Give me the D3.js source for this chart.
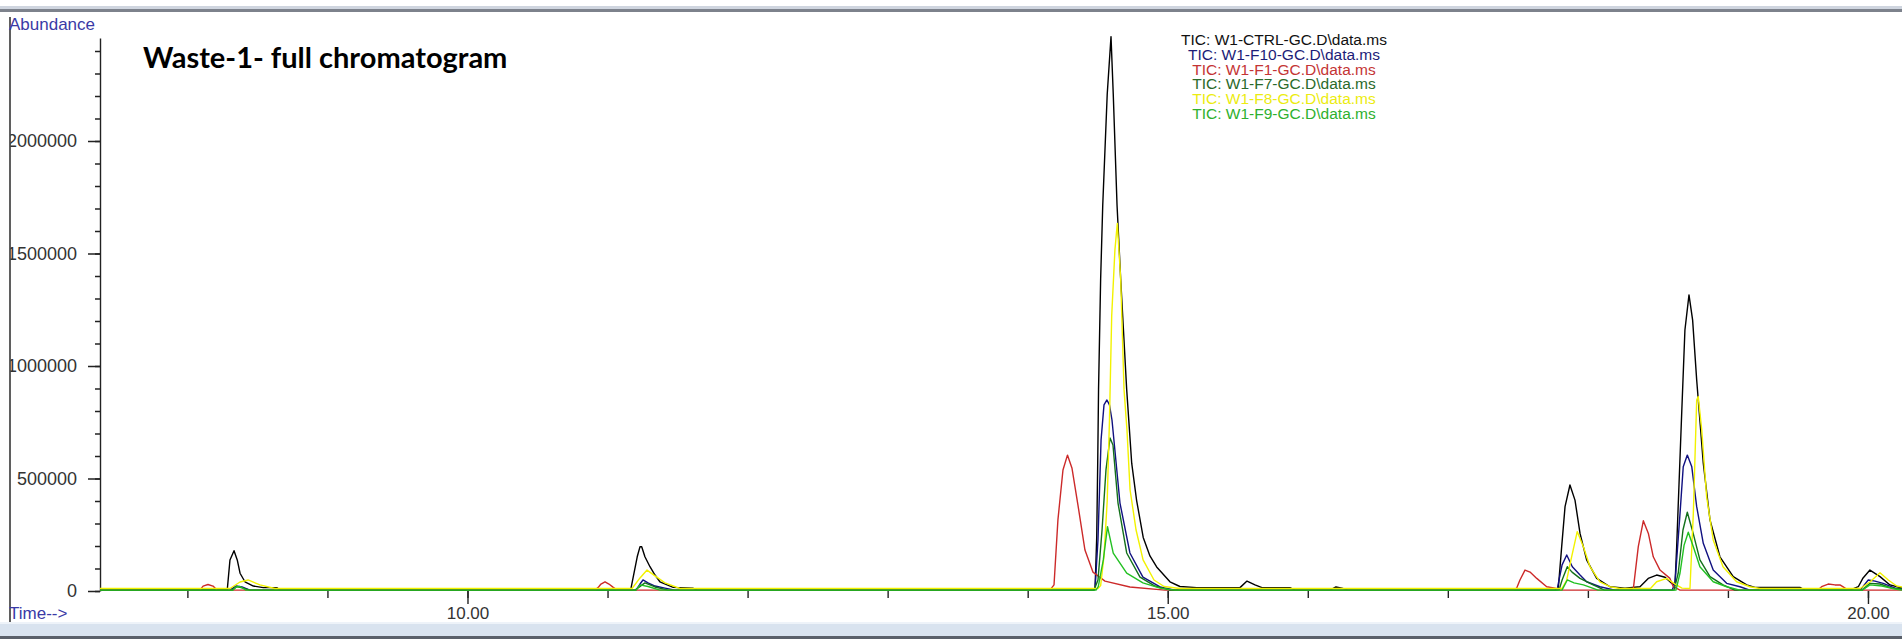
<!DOCTYPE html>
<html>
<head>
<meta charset="utf-8">
<script src="https://cdn.jsdelivr.net/npm/d3@7"></script>
<style>
  html, body { margin: 0; padding: 0; background: #ffffff; }
  svg { display: block; }
  .tick text { font-family: "Liberation Sans", Arial, sans-serif; }
</style>
</head>
<body>
<svg id="chart" width="1902" height="639"></svg>
<script>
// Retention time window (minutes) and abundance ceiling of the plot area
const timeWindow = [7.376, 20.243];
const abundanceCeiling = 2457800;

// Axis ticks
const xMinorTicks = [8, 9, 10, 11, 12, 13, 14, 15, 16, 17, 18, 19, 20];
const xTickLabels = [10, 15, 20];
const yMinorTicks = [0, 100000, 200000, 300000, 400000, 500000, 600000, 700000, 800000, 900000,
  1000000, 1100000, 1200000, 1300000, 1400000, 1500000, 1600000, 1700000, 1800000, 1900000,
  2000000, 2100000, 2200000, 2300000, 2400000];
const yTickLabels = [0, 500000, 1000000, 1500000, 2000000];

// Sample files (legend order)
const sampleNames = [
  "TIC: W1-CTRL-GC.D\\data.ms",
  "TIC: W1-F10-GC.D\\data.ms",
  "TIC: W1-F1-GC.D\\data.ms",
  "TIC: W1-F7-GC.D\\data.ms",
  "TIC: W1-F8-GC.D\\data.ms",
  "TIC: W1-F9-GC.D\\data.ms"
];

// Total ion current traces: [retention time (min), abundance]
const ctrlTrace = [
  [7.376, 4000], [8.285, 8000], [8.304, 138000], [8.333, 179000], [8.356, 138000], [8.376, 79000],
  [8.411, 41000], [8.471, 22000], [8.542, 15000], [8.638, 15000], [8.661, 4000],
  [11.165, 4000], [11.184, 64000], [11.212, 152000], [11.232, 197000], [11.244, 197000],
  [11.267, 152000], [11.303, 108000], [11.339, 71000], [11.374, 41000], [11.469, 16000],
  [11.612, 12000], [11.639, 4000],
  [14.466, 4000], [14.481, 9000], [14.493, 240000], [14.500, 567000], [14.506, 895000],
  [14.521, 1388000], [14.536, 1716000], [14.568, 2209000], [14.595, 2464000], [14.611, 2209000],
  [14.638, 1716000], [14.664, 1388000], [14.707, 895000], [14.743, 567000], [14.778, 402000],
  [14.825, 238000], [14.873, 156000], [14.921, 107000], [15.016, 41000], [15.087, 20000],
  [15.207, 15000], [15.516, 15000], [15.566, 44000], [15.623, 27000], [15.673, 15000],
  [15.873, 15000], [15.909, 4000],
  [16.159, 4000], [16.201, 18000], [16.244, 13000], [16.287, 4000],
  [17.765, 4000], [17.789, 13000], [17.813, 197000], [17.837, 375000], [17.872, 471000],
  [17.908, 404000], [17.944, 256000], [17.991, 138000], [18.063, 56000], [18.158, 19000],
  [18.265, 13000], [18.372, 19000], [18.431, 56000], [18.491, 71000], [18.551, 61000],
  [18.598, 34000], [18.622, 27000], [18.634, 197000], [18.670, 791000], [18.693, 1160000],
  [18.722, 1316000], [18.748, 1204000], [18.777, 938000], [18.824, 568000], [18.872, 316000],
  [18.943, 152000], [19.038, 64000], [19.134, 27000], [19.193, 16000], [19.514, 16000],
  [19.550, 4000], [19.871, 4000], [19.931, 19000], [19.965, 58000], [20.014, 93000],
  [20.086, 64000], [20.157, 27000], [20.243, 13000]
];

const f10Trace = [
  [7.376, 4000], [8.304, 4000], [8.347, 22000], [8.390, 18000], [8.447, 4000],
  [11.203, 4000], [11.232, 31000], [11.253, 49000], [11.289, 36000], [11.339, 22000],
  [11.410, 13000], [11.482, 4000],
  [14.474, 4000], [14.481, 9000], [14.502, 227000], [14.524, 671000], [14.545, 827000],
  [14.566, 849000], [14.584, 827000], [14.602, 760000], [14.659, 391000], [14.730, 169000],
  [14.823, 62000], [14.945, 18000], [15.052, 4000],
  [17.780, 4000], [17.794, 49000], [17.816, 116000], [17.849, 160000], [17.889, 108000],
  [17.944, 71000], [17.991, 41000], [18.086, 19000], [18.193, 4000],
  [18.602, 4000], [18.622, 34000], [18.658, 345000], [18.681, 552000], [18.710, 604000],
  [18.742, 552000], [18.777, 375000], [18.824, 212000], [18.895, 93000], [18.991, 34000],
  [19.086, 19000], [19.157, 4000],
  [19.944, 4000], [20.002, 49000], [20.050, 44000], [20.109, 34000], [20.193, 13000],
  [20.243, 9000]
];

const f1Trace = [
  [7.376, 4000], [8.090, 4000], [8.112, 22000], [8.147, 29000], [8.183, 22000], [8.211, 4000],
  [10.910, 4000], [10.934, 16000], [10.953, 31000], [10.982, 41000], [11.010, 31000],
  [11.041, 16000], [11.067, 4000],
  [14.159, 4000], [14.188, 27000], [14.216, 316000], [14.252, 538000], [14.284, 604000],
  [14.316, 547000], [14.359, 382000], [14.409, 182000], [14.466, 84000], [14.552, 44000],
  [14.730, 18000], [14.980, 4000],
  [17.465, 4000], [17.492, 13000], [17.515, 49000], [17.551, 93000], [17.587, 84000],
  [17.635, 56000], [17.706, 19000], [17.765, 13000], [17.801, 4000],
  [18.301, 4000], [18.325, 12000], [18.360, 197000], [18.396, 312000], [18.432, 256000],
  [18.467, 152000], [18.515, 93000], [18.586, 56000], [18.610, 19000], [18.658, 4000],
  [19.643, 4000], [19.669, 19000], [19.716, 31000], [19.764, 27000], [19.800, 27000],
  [19.823, 18000], [19.857, 4000], [20.243, 4000]
];

const f7Trace = [
  [7.376, 4000], [8.319, 4000], [8.354, 20000], [8.397, 13000], [8.447, 4000],
  [11.196, 4000], [11.267, 36000], [11.339, 18000], [11.432, 4000],
  [14.474, 4000], [14.502, 49000], [14.531, 271000], [14.559, 538000], [14.588, 680000],
  [14.609, 649000], [14.645, 391000], [14.707, 169000], [14.802, 62000], [14.909, 22000],
  [15.016, 4000],
  [17.794, 4000], [17.816, 49000], [17.853, 108000], [17.887, 84000], [17.944, 56000],
  [18.038, 27000], [18.118, 4000],
  [18.615, 4000], [18.645, 79000], [18.679, 271000], [18.710, 350000], [18.752, 256000],
  [18.800, 138000], [18.872, 64000], [18.965, 27000], [19.049, 4000],
  [19.958, 4000], [20.014, 34000], [20.086, 31000], [20.171, 13000], [20.243, 9000]
];

const f8Trace = [
  [7.376, 11000], [8.304, 11000], [8.376, 40000], [8.433, 49000], [8.518, 27000], [8.625, 11000],
  [11.175, 11000], [11.232, 58000], [11.282, 93000], [11.339, 67000], [11.410, 36000],
  [11.517, 11000],
  [14.502, 11000], [14.521, 24000], [14.545, 156000], [14.568, 402000], [14.584, 760000],
  [14.600, 1224000], [14.623, 1516000], [14.640, 1634000], [14.664, 1388000], [14.688, 895000],
  [14.709, 716000], [14.731, 450000], [14.774, 271000], [14.824, 138000], [14.902, 49000],
  [14.974, 20000], [15.087, 11000],
  [17.815, 11000], [17.849, 49000], [17.884, 152000], [17.924, 264000], [17.968, 197000],
  [18.015, 108000], [18.086, 41000], [18.158, 19000], [18.230, 11000],
  [18.447, 11000], [18.491, 41000], [18.563, 56000], [18.622, 31000], [18.672, 13000],
  [18.729, 11000], [18.753, 345000], [18.777, 849000], [18.788, 864000], [18.813, 716000],
  [18.848, 419000], [18.895, 227000], [18.965, 108000], [19.062, 41000], [19.157, 19000],
  [19.229, 11000],
  [19.944, 11000], [20.014, 40000], [20.086, 81000], [20.145, 49000], [20.205, 22000],
  [20.243, 18000]
];

const f9Trace = [
  [7.376, 4000], [8.326, 4000], [8.347, 18000], [8.376, 20000], [8.418, 4000],
  [11.203, 4000], [11.232, 27000], [11.289, 20000], [11.374, 4000],
  [14.488, 4000], [14.504, 19000], [14.540, 138000], [14.570, 286000], [14.611, 168000],
  [14.707, 79000], [14.823, 36000], [14.945, 13000], [15.052, 4000],
  [17.815, 4000], [17.853, 49000], [17.901, 36000], [17.968, 27000], [18.073, 4000],
  [18.629, 4000], [18.658, 80000], [18.687, 204000], [18.717, 261000], [18.753, 197000],
  [18.800, 108000], [18.895, 41000], [18.991, 19000], [19.086, 4000],
  [19.958, 4000], [20.014, 27000], [20.100, 22000], [20.193, 9000], [20.243, 4000]
];

// Trace and legend colours, in legend order
const traceColors = ["#000000", "#101080", "#cc2a2a", "#13701a", "#f2f200", "#22c022"];
const legendColors = ["#111111", "#1c1c78", "#c43434", "#2a6a2a", "#ecec10", "#2eb02e"];

const traces = [ctrlTrace, f10Trace, f1Trace, f7Trace, f8Trace, f9Trace];

const svg = d3.select("#chart");
const W = 1902, H = 639;
const plot = { left: 100, right: 1902, top: 38, bottom: 591 };

const x = d3.scaleLinear().domain(timeWindow).range([plot.left, plot.right]);
const y = d3.scaleLinear().domain([0, abundanceCeiling]).range([plot.bottom, plot.top]);

// Window chrome: top rule and bottom status strip
svg.append("rect").attr("x", 0).attr("y", 0).attr("width", W).attr("height", H).attr("fill", "#ffffff");
svg.append("rect").attr("x", 0).attr("y", 6).attr("width", W).attr("height", 3).attr("fill", "#cfd5df");
svg.append("rect").attr("x", 0).attr("y", 9).attr("width", W).attr("height", 3).attr("fill", "#7d828c");
svg.append("rect").attr("x", 0).attr("y", 622).attr("width", W).attr("height", 2).attr("fill", "#eef3f9");
svg.append("rect").attr("x", 0).attr("y", 624).attr("width", W).attr("height", 12).attr("fill", "#d9e3ef");
svg.append("rect").attr("x", 0).attr("y", 636).attr("width", W).attr("height", 3).attr("fill", "#5a606a");

const defs = svg.append("defs");
defs.append("clipPath").attr("id", "labelClip")
  .append("rect").attr("x", 10.5).attr("y", 0).attr("width", W).attr("height", H);
defs.append("clipPath").attr("id", "plotClip")
  .append("rect").attr("x", plot.left).attr("y", 0).attr("width", plot.right - plot.left).attr("height", H);

// Y axis: minor ticks every 100 000, labelled majors every 500 000
const yAxisG = svg.append("g").attr("clip-path", "url(#labelClip)");
const yMinor = yAxisG.append("g").attr("transform", `translate(${plot.left},0)`)
  .call(d3.axisLeft(y).tickValues(yMinorTicks).tickSize(5).tickSizeOuter(0).tickFormat(""));
const yMajor = yAxisG.append("g").attr("transform", `translate(${plot.left},0)`)
  .call(d3.axisLeft(y).tickValues(yTickLabels).tickSize(12).tickSizeOuter(0).tickPadding(11).tickFormat(d3.format("d")));
yMinor.select(".domain").attr("stroke", "#222").attr("stroke-width", 1.4);
yMajor.select(".domain").remove();
yAxisG.selectAll(".tick line").attr("stroke", "#222").attr("stroke-width", 1.4);
yMajor.selectAll(".tick text").attr("font-size", 18).attr("fill", "#333");

// X axis: minute ticks, labelled every five minutes
const xMinor = svg.append("g").attr("transform", `translate(0,${plot.bottom})`)
  .call(d3.axisBottom(x).tickValues(xMinorTicks).tickSize(7).tickSizeOuter(0).tickFormat(""));
const xMajor = svg.append("g").attr("transform", `translate(0,${plot.bottom})`)
  .call(d3.axisBottom(x).tickValues(xTickLabels).tickSize(13).tickSizeOuter(0).tickPadding(3).tickFormat(d3.format(".2f")));
xMinor.select(".domain").remove();
xMajor.select(".domain").remove();
svg.selectAll(".tick line").attr("stroke", "#222").attr("stroke-width", 1.4);
xMajor.selectAll(".tick text").attr("font-size", 17).attr("fill", "#333");

// Overlaid TIC traces
const line = d3.line().x(d => x(d[0])).y(d => y(d[1]));
const traceG = svg.append("g").attr("clip-path", "url(#plotClip)");
traceG.selectAll("path.trace")
  .data(traces)
  .join("path")
  .attr("class", "trace")
  .attr("d", line)
  .attr("fill", "none")
  .attr("stroke", (d, i) => traceColors[i])
  .attr("stroke-width", 1.4)
  .attr("stroke-linejoin", "round");

// Left frame rule
svg.append("line").attr("x1", 10).attr("x2", 10).attr("y1", 17).attr("y2", 622)
  .attr("stroke", "#2a2a2a").attr("stroke-width", 1.5);

// Axis captions
svg.append("text").attr("x", 9).attr("y", 29.5)
  .attr("font-family", "Liberation Sans, Arial, sans-serif").attr("font-size", 17)
  .attr("fill", "#3a3aa6").text("Abundance");
svg.append("text").attr("x", 9).attr("y", 619)
  .attr("font-family", "Liberation Sans, Arial, sans-serif").attr("font-size", 17)
  .attr("fill", "#3a3aa6").text("Time-->");

// Title
svg.append("text").attr("x", 143).attr("y", 68)
  .attr("font-family", "Lato, 'Open Sans', sans-serif").attr("font-weight", 700).attr("font-size", 29)
  .attr("fill", "#000").text("Waste-1- full chromatogram");

// Legend
svg.append("g").selectAll("text")
  .data(sampleNames)
  .join("text")
  .attr("x", 1284)
  .attr("y", (d, i) => 45 + i * 14.8)
  .attr("text-anchor", "middle")
  .attr("font-family", "Liberation Sans, Arial, sans-serif")
  .attr("font-size", 15.5)
  .attr("fill", (d, i) => legendColors[i])
  .text(d => d);
</script>
</body>
</html>
